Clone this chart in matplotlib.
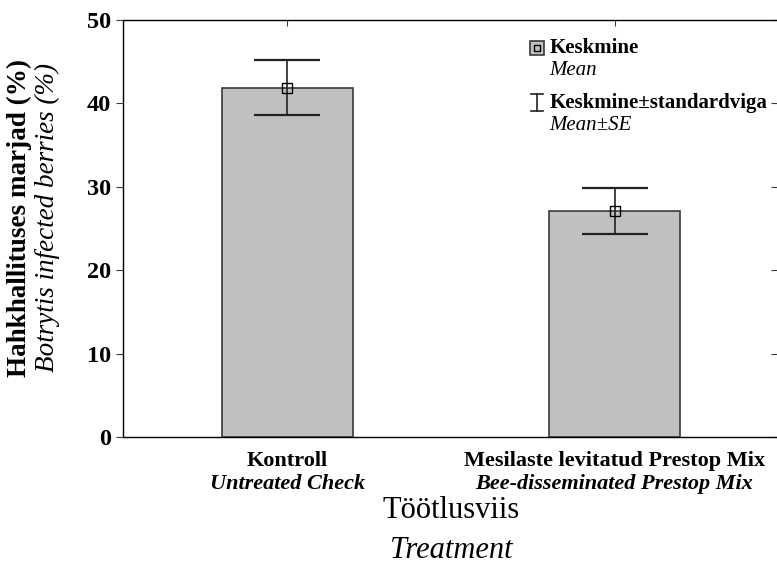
"""
Botrytis infected berries by treatment, bar chart with mean +- SE.
"""

import matplotlib.pyplot as plt
from matplotlib.patches import Rectangle
from matplotlib.lines import Line2D

plt.rcParams['font.family'] = ['Liberation Serif', 'DejaVu Serif']

# data
treat_et = ['Kontroll', 'Mesilaste levitatud Prestop Mix']
treat_en = ['Untreated Check', 'Bee-disseminated Prestop Mix']
means = [41.9, 27.1]
se = [3.35, 2.8]
yticks = [0, 10, 20, 30, 40, 50]

bar_col = '#c0c0c0'
edge_col = '#3a3a3a'

fig = plt.figure(figsize=(7.77, 5.74), dpi=100)
ax = fig.add_axes([0.1587, 0.2387, 0.8430, 0.7265])

x = list(range(len(means)))
ax.bar(x, means, width=0.4, color=bar_col, edgecolor=edge_col, linewidth=1.2, zorder=2)
ax.errorbar(x, means, yerr=se, fmt='none', ecolor='#222222', elinewidth=1.2,
            capsize=24, capthick=1.6, zorder=3)
ax.plot(x, means, 's', ms=7, mfc='none', mec='black', mew=1.0, zorder=4)

ax.set_xlim(-0.5, 1.5)
ax.set_ylim(0, 50)
ax.set_yticks(yticks)
ax.set_xticks(x)
ax.set_xticklabels([])

for s in ax.spines.values():
    s.set_color(edge_col)
    s.set_linewidth(1.0)

ax.tick_params(axis='y', direction='out', length=5, color=edge_col,
               labelsize=17.5, pad=4)
for lab in ax.get_yticklabels():
    lab.set_fontweight('bold')
ax.tick_params(axis='x', direction='in', length=4, color=edge_col, top=True)

# inward ticks on the right side
ax2 = ax.twinx()
ax2.set_ylim(0, 50)
ax2.set_yticks(yticks)
ax2.tick_params(axis='y', direction='in', length=5, color=edge_col, labelright=False)
ax2.spines['right'].set_color(edge_col)

# x tick labels, two lines each
for xi, et, en in zip(x, treat_et, treat_en):
    ax.annotate(et, xy=(xi, 0), xycoords=('data', 'axes fraction'),
                xytext=(0, -17), textcoords='offset points',
                ha='center', va='center', fontsize=16, fontweight='bold')
    ax.annotate(en, xy=(xi, 0), xycoords=('data', 'axes fraction'),
                xytext=(0, -34), textcoords='offset points',
                ha='center', va='center', fontsize=16, fontweight='bold',
                style='italic')

# axis titles
fig.text(0.581, 1 - 510 / 574, 'Töötlusviis', ha='center', va='center', fontsize=22)
fig.text(0.581, 1 - 550 / 574, 'Treatment', ha='center', va='center', fontsize=22,
         style='italic')
fig.text(19 / 777, 1 - 218 / 574, 'Hahkhallituses marjad (%)', rotation=90,
         ha='center', va='center', fontsize=19.5, fontweight='bold')
fig.text(47 / 777, 1 - 218 / 574, 'Botrytis infected berries (%)', rotation=90,
         ha='center', va='center', fontsize=19.5, style='italic')

# hand made legend
tr = ax.transAxes
ax.add_patch(Rectangle((0.621, 0.917), 0.021, 0.033, transform=tr, facecolor=bar_col,
                       edgecolor=edge_col, linewidth=1.2, zorder=5))
ax.plot([0.6315], [0.9335], 's', ms=5, mfc='none', mec='black', mew=1.0,
        transform=tr, zorder=6)
ax.add_line(Line2D([0.6315, 0.6315], [0.781, 0.822], transform=tr, color='#222222', lw=1.2))
ax.add_line(Line2D([0.623, 0.640], [0.822, 0.822], transform=tr, color='#222222', lw=1.2))
ax.add_line(Line2D([0.623, 0.640], [0.781, 0.781], transform=tr, color='#222222', lw=1.2))
ax.text(0.651, 0.933, 'Keskmine', transform=tr, ha='left', va='center',
        fontsize=15, fontweight='bold')
ax.text(0.651, 0.880, 'Mean', transform=tr, ha='left', va='center',
        fontsize=15, style='italic')
ax.text(0.651, 0.801, 'Keskmine±standardviga', transform=tr, ha='left', va='center',
        fontsize=15, fontweight='bold')
ax.text(0.651, 0.748, 'Mean±SE', transform=tr, ha='left', va='center',
        fontsize=15, style='italic')

fig.savefig('out.png', dpi=100)
